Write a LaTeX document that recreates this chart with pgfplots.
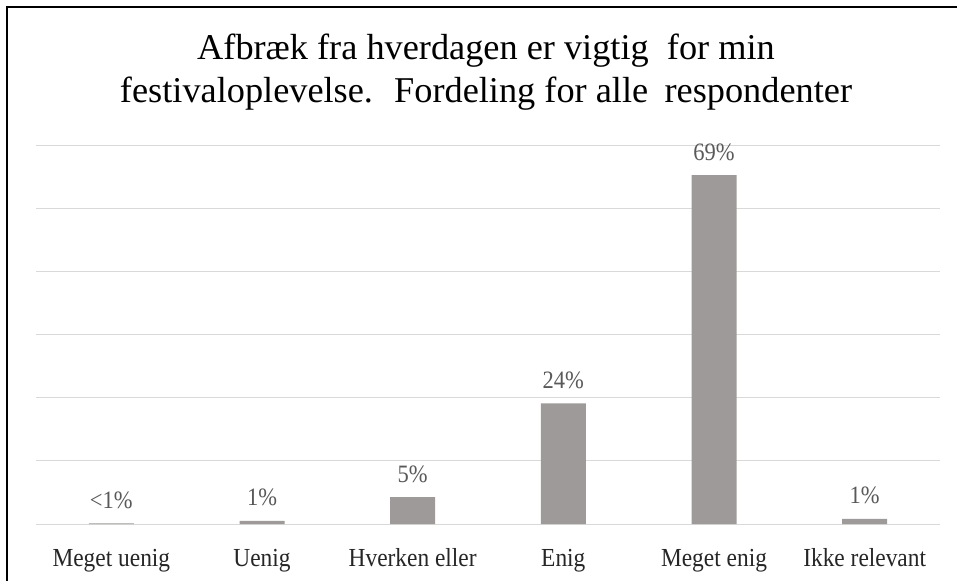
\documentclass[border=0pt]{standalone}
\usepackage{fontspec}
\setmainfont{Liberation Serif}
\newfontfamily\tickfont[FakeStretch=0.9]{Liberation Serif}
\usepackage{pgfplots}
\pgfplotsset{compat=1.18}
\definecolor{barfill}{RGB}{158,154,153}
\definecolor{gridgray}{RGB}{217,217,217}
\definecolor{labelgray}{RGB}{89,89,89}
\begin{document}
\begin{tikzpicture}
\begin{axis}[
    scale only axis,
    width=904pt, height=378.6pt,
    xmin=-0.5, xmax=5.5,
    ymin=0, ymax=75,
    axis line style={draw=none},
    xtick={0,1,2,3,4,5},
    xticklabels={Meget uenig,Uenig,Hverken eller,Enig,Meget enig,Ikke relevant},
    xticklabel style={anchor=base, yshift=-42pt, font=\tickfont\fontsize{26}{28}\selectfont, text=black!85},
    ytick={0,12.5,...,75},
    yticklabels={},
    major tick length=0pt,
    ymajorgrids,
    grid style={gridgray, line width=1pt},
    ybar, bar width=45pt,
    nodes near coords,
    point meta=explicit symbolic,
    every node near coord/.append style={anchor=base, yshift=15pt,
        font=\tickfont\fontsize{25}{27}\selectfont, text=labelgray},
]
\addplot[fill=barfill, draw=none] coordinates {
    (0,0.1) [<1\%]
    (1,0.6) [1\%]
    (2,5.3) [5\%]
    (3,23.9) [24\%]
    (4,69.1) [69\%]
    (5,1.0) [1\%]
};
\end{axis}
\node[anchor=base, font=\fontsize{36.3}{38}\selectfont] at (450pt,464pt)
    {Afbræk fra hverdagen er vigtig\hspace{0.25em} for min};
\node[anchor=base, font=\fontsize{36.3}{38}\selectfont] at (450pt,421pt)
    {festivaloplevelse.\hspace{0.25em} Fordeling for alle\hspace{0.2em} respondenter};
\draw[line width=2pt] (-29pt,-57pt) -- (-29pt,517pt) -- (921pt,517pt);
\pgfresetboundingbox
\path[use as bounding box] (-36pt,-57pt) rectangle (921pt,524pt);
\end{tikzpicture}
\end{document}
